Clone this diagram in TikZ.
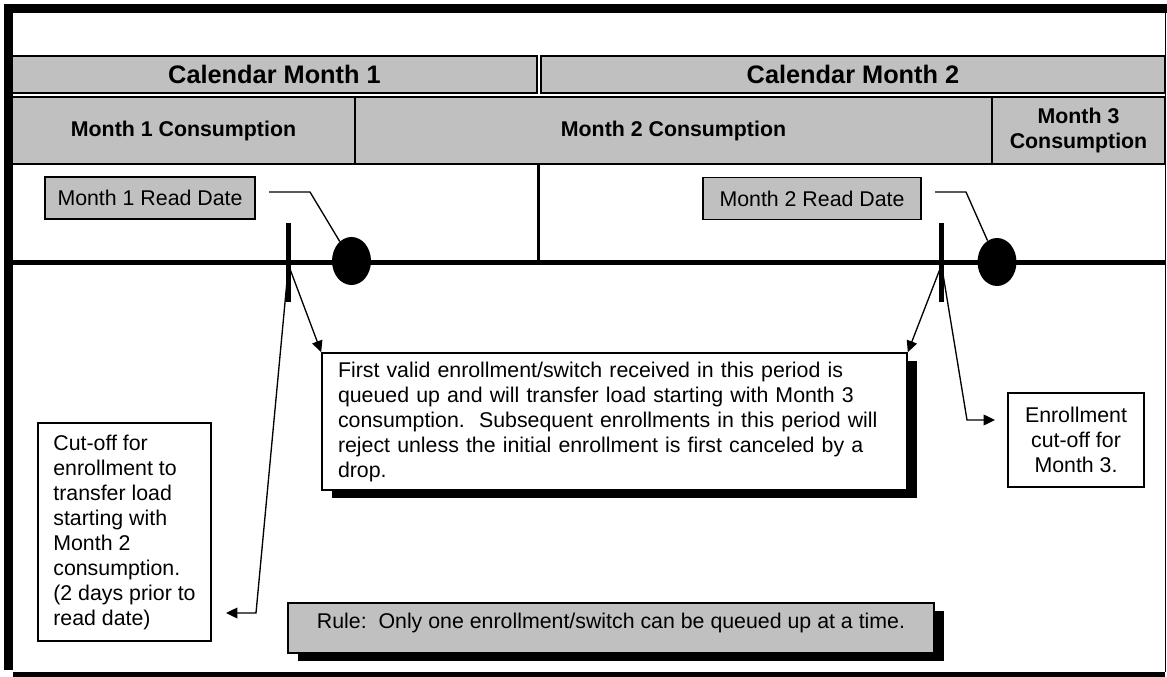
\documentclass[tikz,border=0pt]{standalone}
\usepackage{fontspec}
\setmainfont{Liberation Sans}
\usetikzlibrary{arrows.meta,shapes.geometric,shadows}
\definecolor{headgray}{HTML}{C0C0C0}

\begin{document}
\begin{tikzpicture}[x=0.75pt,y=-0.75pt,
  every node/.style={font=\fontsize{16}{18.75}\selectfont},
  headbox/.style={draw,line width=1.5pt,fill=headgray,inner sep=0pt,
    font=\bfseries\fontsize{19}{22}\selectfont},
  consbox/.style={draw,line width=2pt,fill=headgray,inner sep=0pt,align=center,
    font=\bfseries\fontsize{16}{18.75}\selectfont},
  datebox/.style={draw,line width=1.2pt,fill=headgray,inner sep=0pt},
  notebox/.style={draw,line width=1.2pt,fill=white,inner sep=0pt},
  shadowbox/.style={notebox,drop shadow={shadow xshift=7.5pt,shadow yshift=-6pt,fill=black,opacity=1}},
  readdot/.style={ellipse,fill=black,inner sep=0pt,minimum width=29.25pt,minimum height=36pt},
  conn/.style={line width=1pt,-{Triangle[length=8.5pt,width=8pt]}},
  leader/.style={line width=1pt}]
  \useasboundingbox (0,0) rectangle (1167,677);
  \draw[line width=6.75pt] (4,8.5) -- (1167,8.5);
  \draw[line width=6.75pt] (8.5,4) -- (8.5,670);
  \draw[line width=3.75pt] (13,674.5) -- (1165,674.5);
  \draw[line width=1.2pt] (1165.5,13) -- (1165.5,672);
  \node[headbox,minimum width=393.75pt,minimum height=27.75pt] (cal1) at (274.5,74.5) {Calendar Month 1};
  \node[headbox,minimum width=468pt,minimum height=27.75pt] (cal2) at (853,74.5) {Calendar Month 2};
  \node[consbox,minimum width=257.25pt,minimum height=50.25pt] (cons1) at (183.5,130.5) {Month 1 Consumption};
  \node[consbox,minimum width=477.75pt,minimum height=50.25pt] (cons2) at (673.5,130.5) {Month 2 Consumption};
  \node[consbox,minimum width=129.75pt,minimum height=50.25pt] (cons3) at (1078.5,130.5) {Month 3\\Consumption};
  \draw[line width=2.25pt] (538,164) -- (538,263);
  \draw[line width=3.75pt] (12,263) -- (1165,263);
  \node[datebox,minimum width=157.5pt,minimum height=31.5pt] (rd1) at (150,198) {Month 1 Read Date};
  \node[datebox,minimum width=163.5pt,minimum height=31.5pt] (rd2) at (812,198.5) {Month 2 Read Date};
  \node[readdot] (dot1) at (351.5,261) {};
  \node[readdot] (dot2) at (997,262) {};
  \coordinate (lead1) at (269,192);
  \coordinate (lead2) at (935,192);
  \draw[leader] (lead1) -- (310,192) -- (dot1);
  \draw[leader] (lead2) -- (966,192) -- (dot2);
  \foreach \tickx in {288.5,941.5}
    \draw[line width=3.75pt] (\tickx,223) -- (\tickx,302);
  \coordinate (cut1) at (288.5,265);
  \coordinate (cut2) at (941.5,265);
  \node[shadowbox,minimum width=438.75pt,minimum height=102.75pt,text width=414.75pt,align=left] (queue) at (614.5,421.5)
    {First valid enrollment/switch received in this period is\\
     queued up and will transfer load starting with Month 3\\
     consumption.\ \ Subsequent enrollments in this period will\\
     reject unless the initial enrollment is first canceled by a\\
     drop.};
  \node[notebox,line width=1pt,minimum width=129.75pt,minimum height=163.5pt,align=left] (cutoff) at (124.5,532)
    {Cut-off for\\enrollment to\\transfer load\\starting with\\Month 2\\consumption.\\(2 days prior to\\read date)};
  \node[notebox,minimum width=102pt,minimum height=70.5pt,align=center] (enroll) at (1076,440)
    {Enrollment\\cut-off for\\Month 3.};
  \node[shadowbox,fill=headgray,minimum width=484.5pt,minimum height=37.5pt,text height=12pt,text depth=12pt] (rule) at (611,628)
    {Rule:\ \ Only one enrollment/switch can be queued up at a time.};
  \coordinate (cutoffend) at (226,613);
  \coordinate (enrollend) at (995,420);
  \draw[conn] (cut1) -- (queue.north west);
  \draw[conn] (cut2) -- (queue.north east);
  \draw[conn] (cut1) -- (256,613) -- (cutoffend);
  \draw[conn] (cut2) -- (967,420) -- (enrollend);
\end{tikzpicture}
\end{document}
